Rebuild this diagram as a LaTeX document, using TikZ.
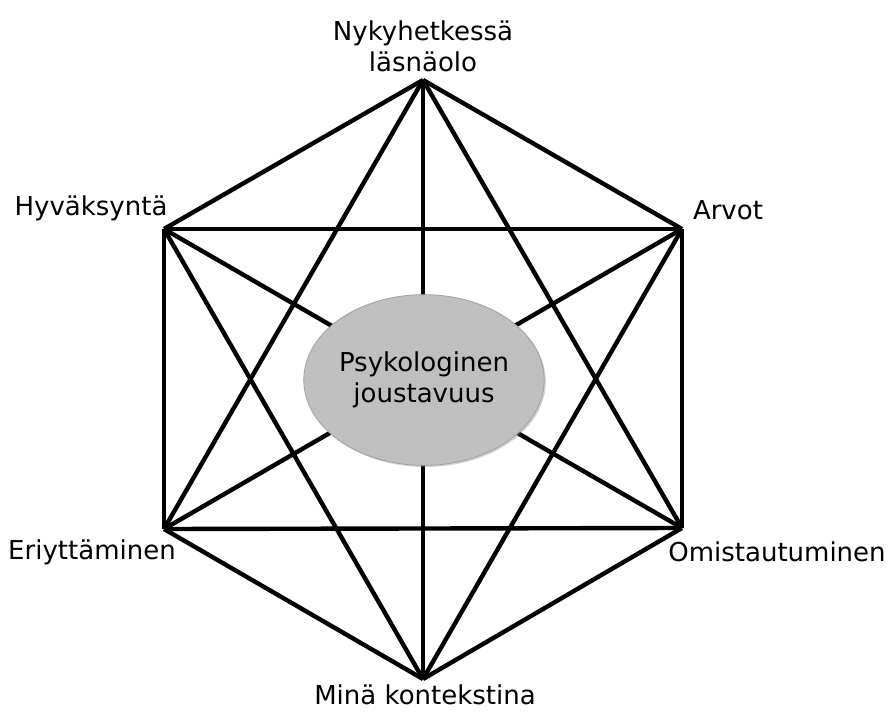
\documentclass[tikz,border=0pt]{standalone}
\usepackage{fontspec}
\setmainfont{DejaVu Sans}
\usetikzlibrary{shapes,shadows,positioning}
\definecolor{hubfill}{RGB}{191,191,191}
\definecolor{hubline}{RGB}{160,160,160}

\begin{document}
\begin{tikzpicture}[x=0.75pt,y=-0.75pt,
    spoke/.style={line width=3.3pt, line join=round},
    lbl/.style={font=\fontsize{19.5}{23.5}\selectfont, align=center, inner sep=0pt},
    hub/.style={ellipse, fill=hubfill, draw=hubline, line width=0.6pt,
      minimum width=175.5pt, minimum height=128pt, inner sep=0pt,
      drop shadow={opacity=0.35, shadow xshift=1.2pt, shadow yshift=-1.2pt}}]
      \useasboundingbox (0,0) rectangle (889,713);
      % corners of the hexagon
      \coordinate (na) at (423,80);
      \coordinate (nb) at (682,229);
      \coordinate (nc) at (682,528);
      \coordinate (nd) at (423,679);
      \coordinate (ne) at (164,529);
      \coordinate (nf) at (164,229);
      % every corner joined to every other
      \foreach \s/\t in {na/nb,na/nc,na/nd,na/ne,na/nf,nb/nc,nb/nd,nb/ne,nb/nf,nc/nd,nc/ne,nc/nf,nd/ne,nd/nf,ne/nf}
        \draw[spoke] (\s) -- (\t);
      \node[hub, lbl] (pj) at (424,380) {Psykologinen\\joustavuus};
      % labels
      \node[lbl] (la) at (423,46) {Nykyhetkessä\\läsnäolo};
      \node[lbl] (lf) at (91,208) {Hyväksyntä};
      \node[lbl] (lb) at (728,210) {Arvot};
      \node[lbl] (le) at (92,552) {Eriyttäminen};
      \node[lbl] (lc) at (777,552) {Omistautuminen};
      \node[lbl] (ld) at (425,695) {Minä kontekstina};
    \end{tikzpicture}
\end{document}
